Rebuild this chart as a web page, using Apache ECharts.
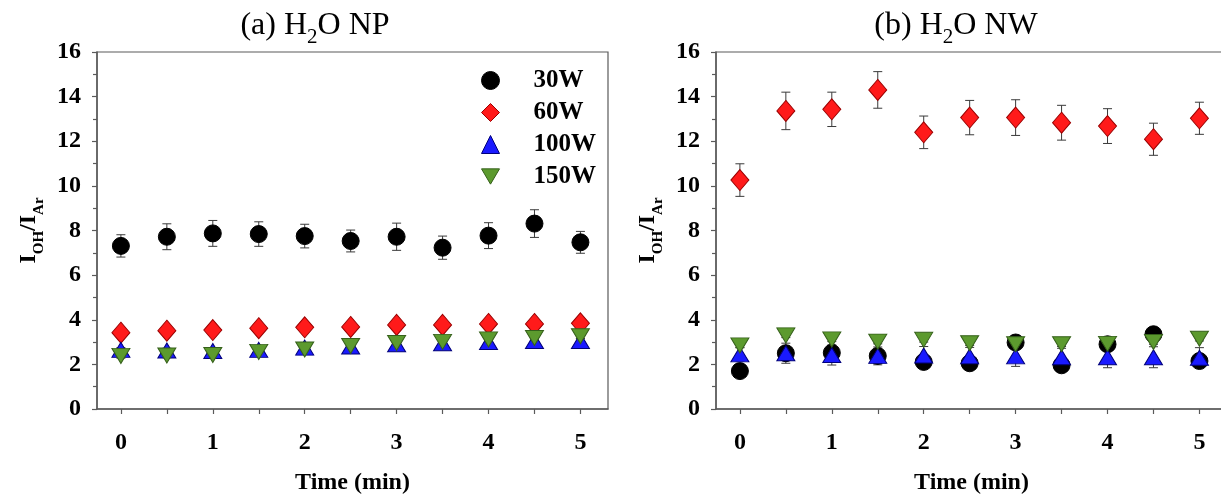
<!DOCTYPE html>
<html>
<head>
<meta charset="utf-8">
<script src="https://cdn.jsdelivr.net/npm/echarts@6/dist/echarts.min.js"></script>
<style>
html,body{margin:0;padding:0;background:#fff;}
#main{width:1221px;height:499px;}
</style>
</head>
<body>
<div id="main"></div>
<script>
// ---- data ----
const times = [0, 0.5, 1, 1.5, 2, 2.5, 3, 3.5, 4, 4.5, 5];
const xTickLabels = [0, 1, 2, 3, 4, 5];
const xTickMarks = [0, 0.5, 1, 1.5, 2, 2.5, 3, 3.5, 4, 4.5, 5];
const seriesNames = ['30W', '60W', '100W', '150W'];

// (a) H2O NP
const np30 = [7.31, 7.72, 7.87, 7.84, 7.75, 7.53, 7.72, 7.23, 7.77, 8.31, 7.47];
const np30Err = [0.50, 0.58, 0.58, 0.55, 0.53, 0.49, 0.61, 0.52, 0.58, 0.62, 0.49];
const np60 = [3.42, 3.51, 3.54, 3.62, 3.66, 3.68, 3.77, 3.77, 3.81, 3.81, 3.84];
const np60Err = [0.1, 0.1, 0.1, 0.1, 0.1, 0.1, 0.1, 0.1, 0.1, 0.1, 0.1];
const np100 = [2.65, 2.62, 2.60, 2.65, 2.75, 2.80, 2.90, 2.95, 3.00, 3.05, 3.05];
const np100Err = [0.1, 0.1, 0.1, 0.1, 0.1, 0.1, 0.1, 0.1, 0.1, 0.1, 0.1];
const np150 = [2.38, 2.40, 2.42, 2.56, 2.67, 2.82, 2.96, 3.01, 3.12, 3.18, 3.26];
const np150Err = [0.1, 0.1, 0.1, 0.1, 0.1, 0.1, 0.1, 0.1, 0.1, 0.1, 0.1];

// (b) H2O NW
const nw30 = [1.70, 2.50, 2.52, 2.38, 2.11, 2.05, 2.98, 1.96, 2.90, 3.35, 2.15];
const nw30Err = [0.25, 0.30, 0.30, 0.30, 0.25, 0.25, 0.30, 0.25, 0.30, 0.30, 0.25];
const nw60 = [10.26, 13.36, 13.43, 14.30, 12.40, 13.06, 13.06, 12.83, 12.68, 12.09, 13.03];
const nw60Err = [0.73, 0.84, 0.77, 0.82, 0.73, 0.77, 0.80, 0.78, 0.78, 0.72, 0.72];
const nw100 = [2.45, 2.50, 2.42, 2.38, 2.40, 2.36, 2.36, 2.32, 2.32, 2.32, 2.30];
const nw100Err = [0.30, 0.45, 0.45, 0.40, 0.40, 0.40, 0.45, 0.40, 0.47, 0.47, 0.45];
const nw150 = [2.85, 3.30, 3.12, 3.02, 3.10, 2.95, 2.90, 2.90, 2.92, 3.00, 3.15];
const nw150Err = [0.1, 0.1, 0.1, 0.1, 0.1, 0.1, 0.1, 0.1, 0.1, 0.1, 0.1];

// ---- styles ----
const FONT = '"Liberation Serif", "DejaVu Serif", serif';
const AXIS_COLOR = '#5a5a5a';
const styles = [
  {symbol: 'circle', size: 17, color: '#000000', border: '#000000'},
  {symbol: 'diamond', size: [18, 21], color: '#ff1a1a', border: '#9a0000'},
  {symbol: 'triangle', size: [18, 15], color: '#1a1aff', border: '#00007a'},
  {symbol: 'path://M0,0 L10,0 L5,8.5 Z', size: [18, 15], color: '#5c9a2e', border: '#35601a'}
];

const panels = [
  {title: '(a) H', titleSuffix: 'O NP', titleX: 310, left: 97, vals: [np30, np60, np100, np150], errs: [np30Err, np60Err, np100Err, np150Err]},
  {title: '(b) H', titleSuffix: 'O NW', titleX: 951, left: 716, vals: [nw30, nw60, nw100, nw150], errs: [nw30Err, nw60Err, nw100Err, nw150Err]}
];

function errRender(params, api) {
  const x = api.value(0), lo = api.value(1), hi = api.value(2);
  const p1 = api.coord([x, hi]);
  const p2 = api.coord([x, lo]);
  const cap = 4.5;
  const st = {stroke: '#3a3a3a', lineWidth: 1};
  return {
    type: 'group',
    children: [
      {type: 'line', shape: {x1: p1[0], y1: p1[1], x2: p2[0], y2: p2[1]}, style: st},
      {type: 'line', shape: {x1: p1[0] - cap, y1: p1[1], x2: p1[0] + cap, y2: p1[1]}, style: st},
      {type: 'line', shape: {x1: p2[0] - cap, y1: p2[1], x2: p2[0] + cap, y2: p2[1]}, style: st}
    ]
  };
}

const grids = [], xAxes = [], yAxes = [], series = [], titles = [];
const yName = '{i|I}{s|OH}{i|/I}{s|Ar}';
const yRich = {
  i: {fontFamily: FONT, fontWeight: 'bold', fontSize: 24, color: '#000', lineHeight: 28, verticalAlign: 'bottom'},
  s: {fontFamily: FONT, fontWeight: 'bold', fontSize: 15, color: '#000', lineHeight: 28, verticalAlign: 'bottom', padding: [0, 0, -6, 0]}
};

panels.forEach((p, k) => {
  grids.push({left: p.left, top: 52, width: 511, height: 357, show: true, borderColor: AXIS_COLOR, borderWidth: 1.2, backgroundColor: 'transparent', outerBoundsMode: 'none', containLabel: false});
  xAxes.push({
    type: 'value', gridIndex: k, min: -0.26, max: 5.3,
    name: 'Time (min)', nameLocation: 'middle', nameGap: 62,
    nameTextStyle: {fontFamily: FONT, fontWeight: 'bold', fontSize: 24, color: '#000'},
    axisLine: {show: true, onZero: false, lineStyle: {color: AXIS_COLOR, width: 1.5}},
    axisTick: {show: true, length: 5, customValues: xTickMarks, lineStyle: {color: AXIS_COLOR, width: 1.2}},
    axisLabel: {customValues: xTickLabels, margin: 22, fontFamily: FONT, fontWeight: 'bold', fontSize: 24, color: '#000'},
    splitLine: {show: false}
  });
  yAxes.push({
    type: 'value', gridIndex: k, min: 0, max: 16, interval: 2,
    name: yName, nameLocation: 'middle', nameGap: 56, nameRotate: 90,
    nameTextStyle: {rich: yRich},
    axisLine: {show: true, onZero: false, lineStyle: {color: AXIS_COLOR, width: 1.5}},
    axisTick: {show: true, length: 5, lineStyle: {color: AXIS_COLOR, width: 1.2}},
    minorTick: {show: true, splitNumber: 2, length: 4, lineStyle: {color: AXIS_COLOR, width: 1.2}},
    axisLabel: {margin: 16, fontFamily: FONT, fontWeight: 'bold', fontSize: 24, color: '#000'},
    splitLine: {show: false}
  });
  titles.push({
    text: '{t|' + p.title + '}{sub|2}{t|' + p.titleSuffix + '}',
    left: p.titleX, top: 1, textAlign: 'center',
    textStyle: {fontWeight: 'normal', rich: {
      t: {fontFamily: FONT, fontWeight: 'normal', fontSize: 32, color: '#000', lineHeight: 36, verticalAlign: 'bottom'},
      sub: {fontFamily: FONT, fontWeight: 'normal', fontSize: 21, color: '#000', lineHeight: 36, verticalAlign: 'bottom', padding: [0, 0, -6, 0]}
    }}
  });
  // error bars first
  p.vals.forEach((vals, s) => {
    series.push({
      type: 'custom', name: seriesNames[s], xAxisIndex: k, yAxisIndex: k, z: 1,
      renderItem: errRender, silent: true,
      itemStyle: {color: styles[s].color},
      data: times.map((t, i) => [t, vals[i] - p.errs[s][i], vals[i] + p.errs[s][i]])
    });
  });
  p.vals.forEach((vals, s) => {
    const st = styles[s];
    series.push({
      type: 'scatter', name: seriesNames[s], xAxisIndex: k, yAxisIndex: k, z: 3 + s,
      symbol: st.symbol, symbolSize: st.size,
      itemStyle: {color: st.color, borderColor: st.border, borderWidth: 1, opacity: 1},
      data: times.map((t, i) => [t, vals[i]])
    });
  });
});

const chart = echarts.init(document.getElementById('main'), null, {renderer: 'canvas'});
chart.setOption({
  animation: false,
  backgroundColor: '#ffffff',
  title: titles,
  grid: grids,
  xAxis: xAxes,
  yAxis: yAxes,
  legend: {
    orient: 'vertical', left: 476, top: 63,
    itemWidth: 18, itemHeight: 18, itemGap: 7,
    data: seriesNames.map((n, s) => ({
      name: n, icon: styles[s].symbol,
      itemStyle: {color: styles[s].color, borderColor: styles[s].border, borderWidth: 1}
    })),
    textStyle: {fontFamily: FONT, fontWeight: 'bold', fontSize: 25, color: '#000', padding: [0, 0, 0, 29]},
    selectedMode: false
  },
  series: series
});
</script>
</body>
</html>
